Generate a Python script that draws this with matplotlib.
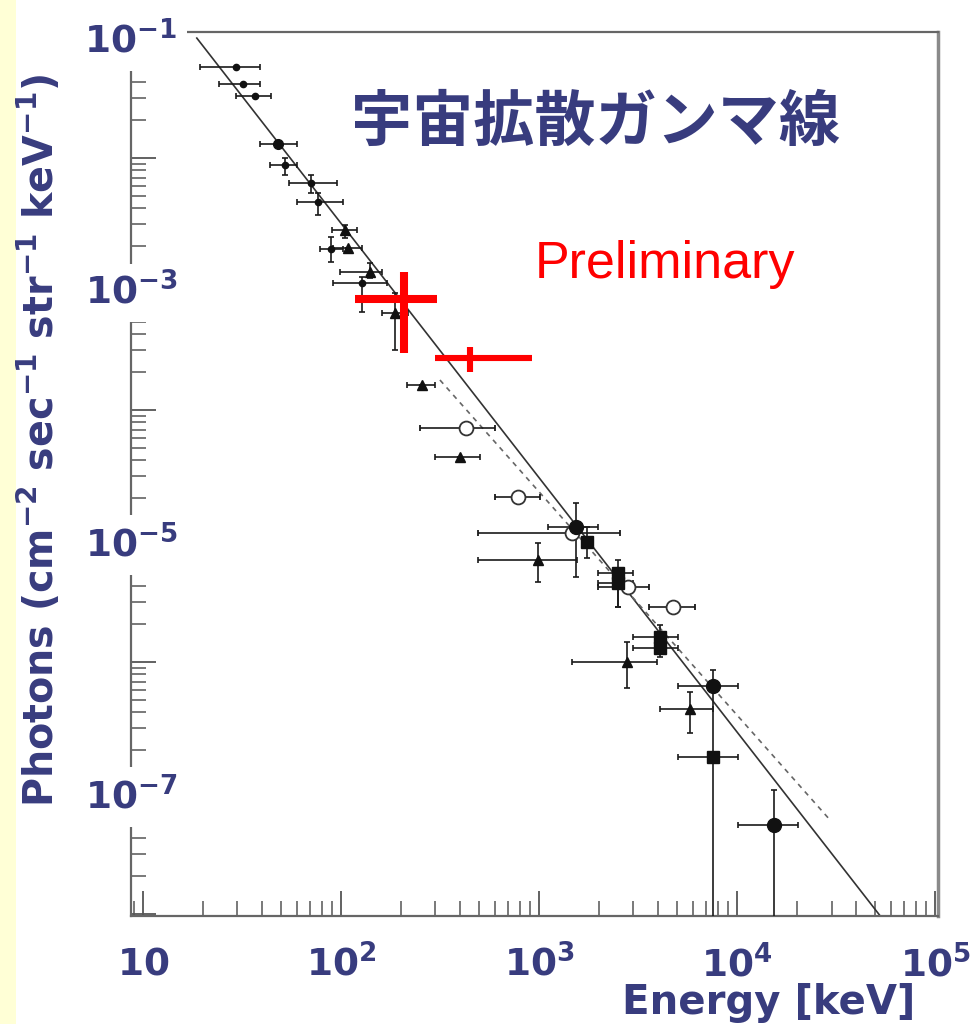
from matplotlib import pyplot as plt
from matplotlib.patches import Rectangle

NAVY = "#383c7e"

# small dots (low-energy cluster): E, F, E_lo, E_hi, F_lo, F_hi  (keV, photons cm^-2 s^-1 sr^-1 keV^-1)
dot_E = [29.5, 32.0, 36.8, 52.1, 70.5, 76.5, 89.0, 128]
dot_F = [5.27e-2, 3.87e-2, 3.10e-2, 8.8e-3, 6.34e-3, 4.48e-3, 1.90e-3, 1.02e-3]
dot_Elo = [19.4, 24.2, 29.5, 43.8, 54.6, 59.9, 78.3, 91.1]
dot_Ehi = [39.0, 39.0, 44.3, 59.9, 95.4, 102, 102, 171]
dot_Flo = [5.27e-2, 3.87e-2, 3.10e-2, 7.33e-3, 5.28e-3, 3.53e-3, 1.50e-3, 6.0e-4]
dot_Fhi = [5.27e-2, 3.87e-2, 3.10e-2, 1.0e-2, 7.33e-3, 5.28e-3, 2.36e-3, 1.14e-3]

big_dot_E = [48.1]
big_dot_F = [1.29e-2]
big_dot_Elo = [39.0]
big_dot_Ehi = [59.9]

# filled triangles
tri_E = [105, 108, 140, 187, 257, 399, 989, 2782, 5790]
tri_F = [2.68e-3, 1.93e-3, 1.25e-3, 5.89e-4, 1.58e-4, 4.24e-5, 6.45e-6, 1.0e-6, 4.24e-7]
tri_Elo = [90.1, 91.1, 98.9, 161, 215, 298, 492, 1468, 4085]
tri_Ehi = [120, 128, 161, 218, 298, 504, 1555, 3945, 7565]
tri_Flo = [2.32e-3, 1.93e-3, 1.12e-3, 2.99e-4, 1.58e-4, 4.24e-5, 4.31e-6, 6.22e-7, 2.73e-7]
tri_Fhi = [2.94e-3, 1.93e-3, 1.47e-3, 8.49e-4, 1.58e-4, 4.24e-5, 8.80e-6, 1.44e-6, 5.78e-7]

# open circles
ocirc_E = [428, 783, 1468, 2812, 4750]
ocirc_F = [7.20e-5, 2.04e-5, 1.06e-5, 3.94e-6, 2.73e-6]
ocirc_Elo = [251, 600, 492, 1986, 3595]
ocirc_Ehi = [600, 1012, 2565, 3595, 6135]

# filled circles
circ_E = [1538, 7565, 15380]
circ_F = [1.18e-5, 6.46e-7, 5.08e-8]
circ_Elo = [1110, 5035, 10120]
circ_Ehi = [1986, 10120, 20320]
circ_Flo = [4.73e-6, 1.76e-7, 1.0e-9]
circ_Fhi = [1.83e-5, 8.64e-7, 9.64e-8]

# filled squares
sq_E = [1747, 2506, 2506, 4085, 4085, 7565]
sq_F = [8.96e-6, 5.08e-6, 4.2e-6, 1.58e-6, 1.29e-6, 1.76e-7]
sq_Elo = [1747, 1986, 1986, 2985, 2985, 5035]
sq_Ehi = [1747, 2985, 2985, 5035, 5035, 10120]
sq_Flo = [6.68e-6, 2.73e-6, 2.73e-6, 1.29e-6, 1.1e-6, 1.0e-9]
sq_Fhi = [1.18e-5, 6.45e-6, 5.08e-6, 1.97e-6, 1.58e-6, 1.76e-7]

# new measurements (red)
new_E = [208, 449]
new_F = [7.61e-4, 2.59e-4]
new_Elo = [118, 298]
new_Ehi = [305, 922]
new_Flo = [2.83e-4, 2.00e-4]
new_Fhi = [1.25e-3, 3.16e-4]
new_lw = [5.8, 4.4]

# power-law model lines (end points)
solid_E = [18.7, 5.3e4]
solid_F = [8.95e-2, 9.6e-9]
dashed_E = [316, 2.95e4]
dashed_F = [1.73e-4, 5.57e-8]

ytick_vals = [1e-1, 1e-3, 1e-5, 1e-7]
ytick_text = [r"$10^{-1}$", r"$10^{-3}$", r"$10^{-5}$", r"$10^{-7}$"]
xtick_vals = [10, 1e2, 1e3, 1e4, 1e5]
xtick_text = [r"$10$", r"$10^2$", r"$10^3$", r"$10^4$", r"$10^5$"]

plt.rcParams["mathtext.default"] = "bf"
plt.rcParams["mathtext.fontset"] = "dejavusans"


def errs(v, lo, hi):
    return [[a - b for a, b in zip(v, lo)], [b - a for a, b in zip(v, hi)]]


fig = plt.figure(figsize=(9.71, 10.24), dpi=100)
fig.patches.append(Rectangle((0, 0), 16 / 971, 1, transform=fig.transFigure,
                             facecolor="#ffffd6", edgecolor="none", zorder=0))
ax = fig.add_axes([131 / 971, 1 - 916 / 1024, 807 / 971, 884 / 1024])
ax.set_xscale("log")
ax.set_yscale("log")
ax.set_xlim(8.7, 1.035e5)
ax.set_ylim(9.64e-9, 1e-1)

ax.plot(solid_E, solid_F, color="#333333", lw=1.2, zorder=2)
ax.plot(dashed_E, dashed_F, color="#666666", lw=1.2, ls=(0, (3, 3)), zorder=2)

eb = dict(ecolor="#1a1a1a", elinewidth=1.2, capsize=2.5, capthick=1.2, ls="none", zorder=3)
ax.errorbar(dot_E, dot_F, xerr=errs(dot_E, dot_Elo, dot_Ehi), yerr=errs(dot_F, dot_Flo, dot_Fhi),
            fmt="o", ms=4.5, color="#111111", **eb)
ax.errorbar(big_dot_E, big_dot_F, xerr=errs(big_dot_E, big_dot_Elo, big_dot_Ehi),
            fmt="o", ms=7, color="#111111", **eb)
ax.errorbar(tri_E, tri_F, xerr=errs(tri_E, tri_Elo, tri_Ehi), yerr=errs(tri_F, tri_Flo, tri_Fhi),
            fmt="^", ms=7, color="#111111", **eb)
ax.errorbar(ocirc_E, ocirc_F, xerr=errs(ocirc_E, ocirc_Elo, ocirc_Ehi),
            fmt="o", ms=10, mfc="white", mec="#333333", mew=1.3, **eb)
ax.errorbar(circ_E, circ_F, xerr=errs(circ_E, circ_Elo, circ_Ehi), yerr=errs(circ_F, circ_Flo, circ_Fhi),
            fmt="o", ms=10, color="#111111", **eb)
ax.errorbar(sq_E, sq_F, xerr=errs(sq_E, sq_Elo, sq_Ehi), yerr=errs(sq_F, sq_Flo, sq_Fhi),
            fmt="s", ms=9, color="#111111", **eb)

for i in range(len(new_E)):
    ax.errorbar([new_E[i]], [new_F[i]],
                xerr=errs([new_E[i]], [new_Elo[i]], [new_Ehi[i]]),
                yerr=errs([new_F[i]], [new_Flo[i]], [new_Fhi[i]]),
                fmt="none", ecolor="#ff0000", elinewidth=new_lw[i], capsize=0, zorder=4)

for s in ax.spines.values():
    s.set_color("#666666")
    s.set_linewidth(1.6)
ax.spines["right"].set_linewidth(2.5)
ax.spines["right"].set_color("#8a8a8a")
ax.tick_params(which="major", direction="in", length=18, width=1.3, color="#555555",
               labelbottom=False, labelleft=False)
ax.tick_params(which="minor", direction="in", length=11, width=1.1, color="#555555",
               labelbottom=False, labelleft=False)

lab = dict(color=NAVY, fontsize=27, fontweight="bold", ha="center", va="center", zorder=6, clip_on=False)
for v, s in zip(ytick_vals, ytick_text):
    ax.text(0.0, v * 0.85, s, transform=ax.get_yaxis_transform(),
            bbox=dict(facecolor="white", edgecolor="none", pad=7), **lab)
for v, s in zip(xtick_vals, xtick_text):
    ax.text(v, -0.055, s, transform=ax.get_xaxis_transform(), **lab)

ax.text(0.575, 0.897, "宇宙拡散ガンマ線", transform=ax.transAxes, ha="center", va="center",
        fontsize=44, fontweight="bold", color=NAVY, family=["Noto Sans CJK JP", "DejaVu Sans"])
ax.text(0.662, 0.737, "Preliminary", transform=ax.transAxes, ha="center", va="center",
        fontsize=37.5, color="#ff0000", family="Liberation Sans")

fig.text(0.041, 0.57, r"Photons (cm$^{-2}$ sec$^{-1}$ str$^{-1}$ keV$^{-1}$)", rotation=90,
         ha="center", va="center", fontsize=28.5, fontweight="bold", color=NAVY)
fig.text(0.792, 0.040, "Energy [keV]", ha="center", va="top",
         fontsize=29, fontweight="bold", color=NAVY)

fig.savefig("out.png", dpi=100)
